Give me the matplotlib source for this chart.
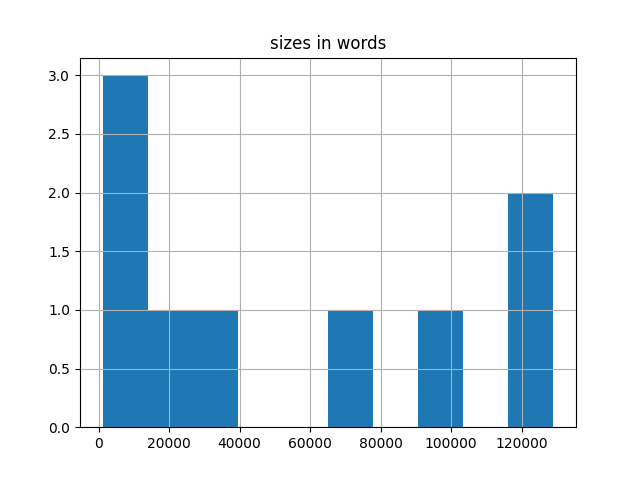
import matplotlib
matplotlib.use("Agg")
import matplotlib.pyplot as plt

sizes_in_words = [1100, 5000, 9000, 20000, 30000, 70000, 95000, 120000, 129000]

fig, ax = plt.subplots(figsize=(6.4, 4.8), dpi=100)
ax.hist(sizes_in_words, bins=10)
ax.grid(True)
ax.set_title("sizes in words")
fig.savefig("out.png")
